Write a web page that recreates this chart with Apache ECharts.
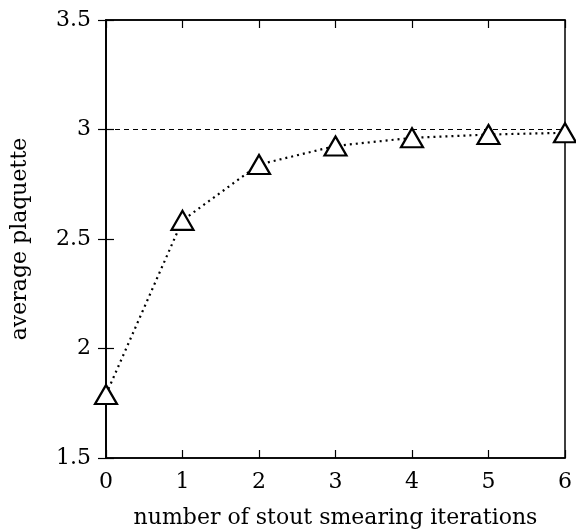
<!DOCTYPE html>
<html><head><meta charset="utf-8">
<script src="https://cdn.jsdelivr.net/npm/echarts@6/dist/echarts.min.js"></script>
<style>html,body{margin:0;padding:0;background:#fff}#c{width:576px;height:530px}</style>
</head><body><div id="c"></div>
<script>
const iterations = [0, 1, 2, 3, 4, 5, 6];
const plaquette = [1.79, 2.585, 2.84, 2.925, 2.962, 2.977, 2.985];
const referenceLevel = 3;
const xTitle = 'number of stout smearing iterations';
const yTitle = 'average plaquette';

const font = '"DejaVu Serif", "Liberation Serif", serif';
const chart = echarts.init(document.getElementById('c'));
const axisCommon = {
  axisLine: {show: true, lineStyle: {color: '#000', width: 1.5}},
  axisTick: {show: true, inside: true, length: 8, lineStyle: {color: '#000', width: 1.2}},
  splitLine: {show: false}
};
chart.setOption({
  animation: false,
  grid: {left: 106, right: 11, top: 20, bottom: 72, show: true, borderColor: '#000', borderWidth: 1.5,
    containLabel: false, outerBoundsMode: 'none'},
  xAxis: [
    Object.assign({type: 'value', min: 0, max: 6, interval: 1, position: 'bottom',
      name: xTitle, nameLocation: 'middle', nameGap: 49,
      nameTextStyle: {fontFamily: font, fontSize: 22, color: '#000'},
      axisLabel: {fontFamily: font, fontSize: 22, color: '#000', margin: 13}}, axisCommon),
    Object.assign({type: 'value', min: 0, max: 6, interval: 1, position: 'top',
      axisLabel: {show: false}}, axisCommon)
  ],
  yAxis: [
    Object.assign({type: 'value', min: 1.5, max: 3.5, interval: 0.5, position: 'left',
      name: yTitle, nameLocation: 'middle', nameGap: 75, nameRotate: 90,
      nameTextStyle: {fontFamily: font, fontSize: 22, color: '#000'},
      axisLabel: {fontFamily: font, fontSize: 22, color: '#000', margin: 15,
        formatter: v => String(v)}}, axisCommon),
    Object.assign({type: 'value', min: 1.5, max: 3.5, interval: 0.5, position: 'right',
      axisLabel: {show: false}}, axisCommon)
  ],
  series: [{
    type: 'line',
    data: iterations.map((x, i) => [x, plaquette[i]]),
    symbol: 'triangle',
    symbolSize: [22, 19],
    itemStyle: {color: '#fff', borderColor: '#000', borderWidth: 2.2},
    lineStyle: {color: '#000', width: 2.2, type: [2, 4]},
    z: 5,
    markLine: {
      silent: true, symbol: 'none', label: {show: false},
      lineStyle: {color: '#000', width: 1, type: [5, 4]},
      data: [{yAxis: referenceLevel}]
    }
  }]
});
</script></body></html>
